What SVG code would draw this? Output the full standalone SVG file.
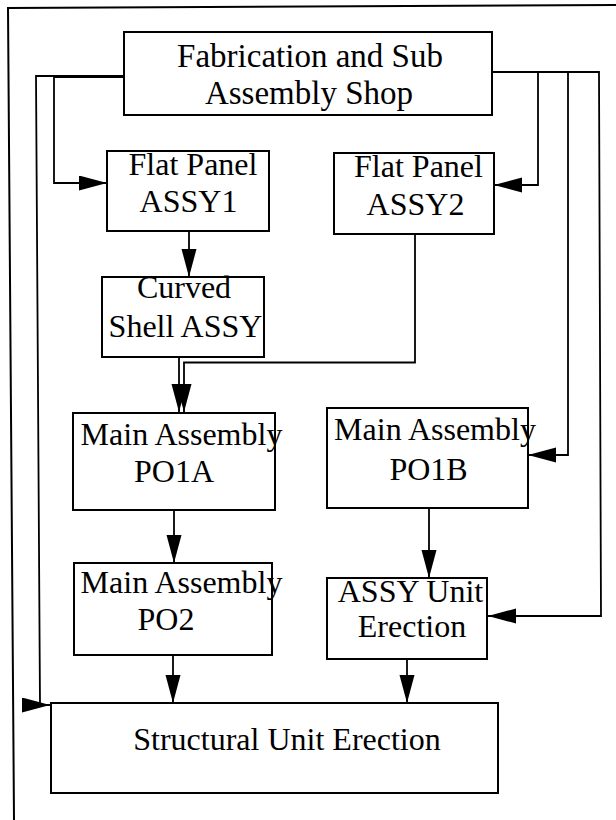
<svg xmlns="http://www.w3.org/2000/svg" width="616" height="820" viewBox="0 0 616 820">
<defs>
<style>
.box{fill:#fff;stroke:#000;stroke-width:2}
.lbl{font-family:"Liberation Serif","Times New Roman",serif;font-size:32px;fill:#000;text-anchor:middle}
.con{fill:none;stroke:#000;stroke-width:1.8}
.frame{fill:none;stroke:#000;stroke-width:2}
</style>
<marker id="ah" markerUnits="userSpaceOnUse" markerWidth="29" markerHeight="16" refX="28" refY="7.5" orient="auto">
<path d="M0,0 L28,7.5 L0,15 z" fill="#000"/>
</marker>
</defs>
<rect width="616" height="820" fill="#fff"/>
<g id="frame">
<path class="frame" d="M616,5 L8,8 L14,820"/>
</g>
<g id="connectors">
<path class="con" d="M124,76 H36 L40,705 H50" marker-end="url(#ah)"/>
<path class="con" d="M124,77 H54 V183 H107" marker-end="url(#ah)"/>
<path class="con" d="M492,72 H538 V185 H494" marker-end="url(#ah)"/>
<path class="con" d="M538,72 H568 V455 H528" marker-end="url(#ah)"/>
<path class="con" d="M568,72 H599 L601,616 H488" marker-end="url(#ah)"/>
<path class="con" d="M189,231 V277" marker-end="url(#ah)"/>
<path class="con" d="M179,357 V412" marker-end="url(#ah)"/>
<path class="con" d="M415,234 V362.5 H184 V412" marker-end="url(#ah)"/>
<path class="con" d="M174,510 V563" marker-end="url(#ah)"/>
<path class="con" d="M429,508 V578" marker-end="url(#ah)"/>
<path class="con" d="M173,655 V703" marker-end="url(#ah)"/>
<path class="con" d="M407,659 V703" marker-end="url(#ah)"/>
</g>
<g id="fab">
<rect class="box" x="124" y="32" width="368" height="83"/>
<text class="lbl" x="310" y="67" style="font-size:33px">Fabrication and Sub</text>
<text class="lbl" x="309" y="104" style="font-size:33px">Assembly Shop</text>
</g>
<g id="assy1">
<rect class="box" x="107" y="151" width="162" height="80"/>
<text class="lbl" x="193" y="175">Flat Panel</text>
<text class="lbl" x="188.5" y="212">ASSY1</text>
</g>
<g id="assy2">
<rect class="box" x="334" y="153" width="160" height="81"/>
<text class="lbl" x="418.5" y="177">Flat Panel</text>
<text class="lbl" x="415.5" y="215">ASSY2</text>
</g>
<g id="curved">
<rect class="box" x="102" y="277" width="162" height="80"/>
<text class="lbl" x="184" y="298">Curved</text>
<text class="lbl" x="185.5" y="337">Shell ASSY</text>
</g>
<g id="po1a">
<rect class="box" x="73" y="413" width="202" height="97"/>
<text class="lbl" x="181.5" y="445">Main Assembly</text>
<text class="lbl" x="174" y="482">PO1A</text>
</g>
<g id="po1b">
<rect class="box" x="327" y="408" width="201" height="100"/>
<text class="lbl" x="435" y="440">Main Assembly</text>
<text class="lbl" x="428.5" y="480">PO1B</text>
</g>
<g id="po2">
<rect class="box" x="74" y="563" width="198" height="92"/>
<text class="lbl" x="181.5" y="593">Main Assembly</text>
<text class="lbl" x="166" y="630">PO2</text>
</g>
<g id="assyunit">
<rect class="box" x="327" y="578" width="160" height="81"/>
<text class="lbl" x="410.5" y="602">ASSY Unit</text>
<text class="lbl" x="412" y="637">Erection</text>
</g>
<g id="structural">
<rect class="box" x="51" y="703" width="447" height="90"/>
<text class="lbl" x="287" y="750">Structural Unit Erection</text>
</g>
</svg>
